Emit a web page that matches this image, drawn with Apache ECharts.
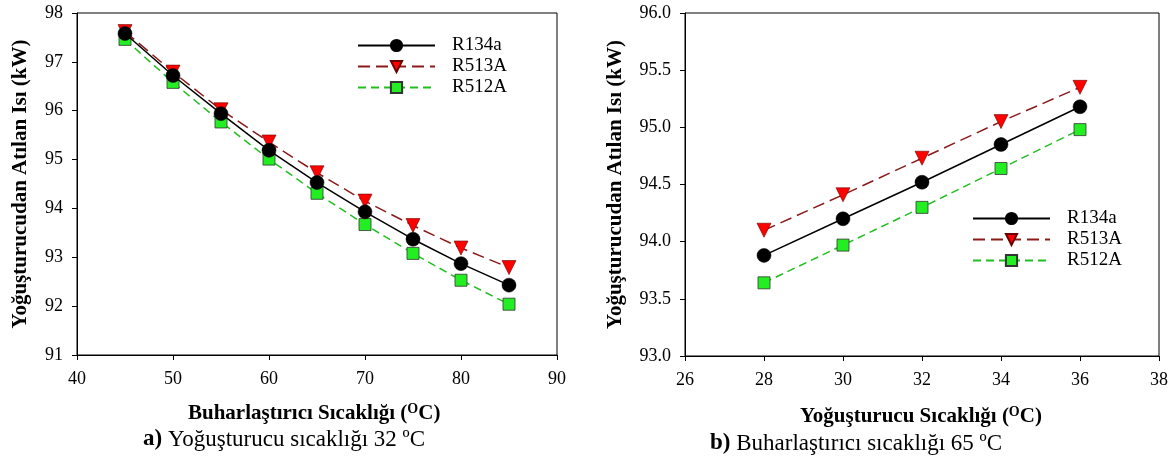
<!DOCTYPE html>
<html>
<head>
<meta charset="utf-8">
<script src="https://cdn.jsdelivr.net/npm/echarts@6/dist/echarts.min.js"></script>
<style>
  html, body { margin: 0; padding: 0; background: #fff; }
  #chart { width: 1175px; height: 468px; }
</style>
</head>
<body>
<div id="chart"></div>
<script>
// a) evaporator temperature sweep, condenser at 32 C
const evapTemps = [45, 50, 55, 60, 65, 70, 75, 80, 85];
const evapR134a = [97.58, 96.72, 95.94, 95.19, 94.53, 93.93, 93.37, 92.87, 92.43];
const evapR513A = [97.62, 96.79, 96.02, 95.36, 94.73, 94.15, 93.65, 93.19, 92.79];
const evapR512A = [97.46, 96.58, 95.77, 95.01, 94.31, 93.67, 93.08, 92.53, 92.04];

// b) condenser temperature sweep, evaporator at 65 C
const condTemps = [28, 30, 32, 34, 36];
const condR134a = [93.88, 94.20, 94.52, 94.85, 95.18];
const condR513A = [94.10, 94.41, 94.73, 95.05, 95.35];
const condR512A = [93.64, 93.97, 94.30, 94.64, 94.98];

const seriesNames = ['R134a', 'R513A', 'R512A'];

const font = 'Liberation Serif';
const chart = echarts.init(document.getElementById('chart'));

const pairs = (xs, ys) => xs.map((x, i) => [x, ys[i]]);

const styles = [
  { symbol: 'circle', symbolSize: 14, symbolRotate: 0, line: { color: '#000', width: 1.5, type: 'solid' },
    item: { color: '#000', borderColor: '#000', borderWidth: 0.5 } },
  { symbol: 'triangle', symbolSize: 14, symbolRotate: 180, line: { color: '#8b1a1a', width: 1.5, type: [12, 6] },
    item: { color: '#ff0000', borderColor: '#6b0000', borderWidth: 0.6 } },
  { symbol: 'rect', symbolSize: 12, symbolRotate: 0, line: { color: '#1fbf1f', width: 1.5, type: [8, 5] },
    item: { color: '#22ee22', borderColor: '#333', borderWidth: 0.8 } },
];

const makeSeries = (idx, xs, ysList) => ysList.map((ys, i) => ({
  name: seriesNames[i],
  type: 'line',
  xAxisIndex: idx,
  yAxisIndex: idx,
  data: pairs(xs, ys),
  symbol: styles[i].symbol,
  symbolSize: styles[i].symbolSize,
  symbolRotate: styles[i].symbolRotate,
  lineStyle: styles[i].line,
  itemStyle: styles[i].item,
  z: 3 - i,
  animation: false,
}));

const xAxisBase = {
  type: 'value',
  axisLine: { show: true, onZero: false, lineStyle: { color: '#000', width: 1 } },
  axisTick: { show: true, inside: false, length: 5, lineStyle: { color: '#000' } },
  axisLabel: { color: '#000', fontFamily: font, fontSize: 18, margin: 15 },
  splitLine: { show: false },
};

const yAxisBase = {
  type: 'value',
  axisLine: { show: true, lineStyle: { color: '#000', width: 1 } },
  axisTick: { show: true, inside: false, length: 5, lineStyle: { color: '#000' } },
  axisLabel: { color: '#000', fontFamily: font, fontSize: 18, margin: 14 },
  splitLine: { show: false },
  nameLocation: 'middle',
  nameRotate: 90,
  nameTextStyle: { color: '#000', fontFamily: font, fontSize: 21, fontWeight: 'bold' },
};

const legendBase = {
  orient: 'vertical',
  itemWidth: 77,
  itemHeight: 14,
  itemGap: 2,
  textStyle: { color: '#000', fontFamily: font, fontSize: 19, padding: [0, 0, 0, 12] },
  data: seriesNames,
};

const axisTitleRich = {
  b: { fontFamily: font, fontSize: 21, fontWeight: 'bold', fill: '#000' },
  sup: { fontFamily: font, fontSize: 14, fontWeight: 'bold', fill: '#000', verticalAlign: 'top', padding: [0, 0, 9, 0] },
};

const captionRich = {
  b: { fontFamily: font, fontSize: 23, fontWeight: 'bold', fill: '#000' },
  n: { fontFamily: font, fontSize: 23, fill: '#000' },
};

chart.setOption({
  backgroundColor: '#fff',
  animation: false,
  grid: [
    { left: 77, top: 13, width: 480, height: 342, show: true, borderColor: '#000', borderWidth: 1, backgroundColor: 'transparent' },
    { left: 685, top: 13, width: 474, height: 343, show: true, borderColor: '#000', borderWidth: 1, backgroundColor: 'transparent' },
  ],
  xAxis: [
    { ...xAxisBase, gridIndex: 0, min: 40, max: 90, interval: 10 },
    { ...xAxisBase, gridIndex: 1, min: 26, max: 38, interval: 2 },
  ],
  yAxis: [
    { ...yAxisBase, gridIndex: 0, min: 91, max: 98, interval: 1,
      name: 'Yoğuşturucudan Atılan Isı (kW)', nameGap: 46 },
    { ...yAxisBase, gridIndex: 1, min: 93, max: 96, interval: 0.5,
      axisLabel: { ...yAxisBase.axisLabel, formatter: v => v.toFixed(1) },
      name: 'Yoğuşturucudan Atılan Isı (kW)', nameGap: 59 },
  ],
  legend: [
    { ...legendBase, left: 352, top: 31 },
    { ...legendBase, left: 967, top: 204 },
  ],
  series: [
    ...makeSeries(0, evapTemps, [evapR134a, evapR513A, evapR512A]),
    ...makeSeries(1, condTemps, [condR134a, condR513A, condR512A]),
  ],
  graphic: [
    { type: 'text', left: 188, top: 402, style: { text: '{b|Buharlaştırıcı Sıcaklığı (}{sup|O}{b|C)}', rich: axisTitleRich } },
    { type: 'text', left: 800, top: 405, style: { text: '{b|Yoğuşturucu Sıcaklığı (}{sup|O}{b|C)}', rich: axisTitleRich } },
    { type: 'text', left: 143, top: 428, style: { text: '{b|a)}{n| Yoğuşturucu sıcaklığı 32 ºC}', rich: captionRich } },
    { type: 'text', left: 710, top: 432, style: { text: '{b|b)}{n| Buharlaştırıcı sıcaklığı 65 ºC}', rich: captionRich } },
  ],
});
</script>
</body>
</html>
